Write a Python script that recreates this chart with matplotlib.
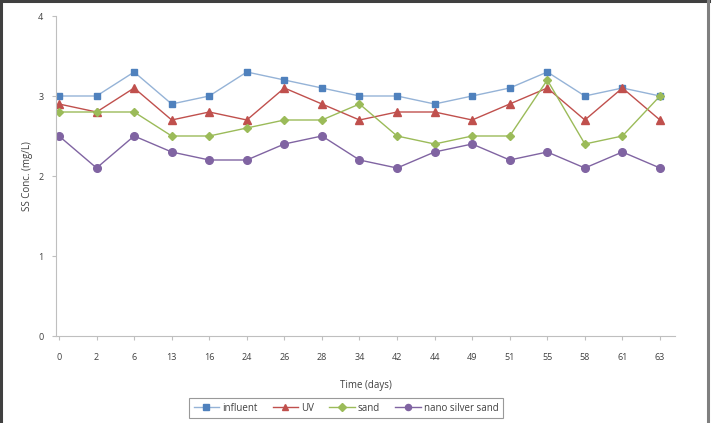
import numpy as np
import matplotlib.pyplot as plt
from matplotlib.lines import Line2D

days = ['0', '2', '6', '13', '16', '24', '26', '28', '34', '42', '44', '49', '51', '55', '58', '61', '63']
influent = [3.0, 3.0, 3.3, 2.9, 3.0, 3.3, 3.2, 3.1, 3.0, 3.0, 2.9, 3.0, 3.1, 3.3, 3.0, 3.1, 3.0]
uv = [2.9, 2.8, 3.1, 2.7, 2.8, 2.7, 3.1, 2.9, 2.7, 2.8, 2.8, 2.7, 2.9, 3.1, 2.7, 3.1, 2.7]
sand = [2.8, 2.8, 2.8, 2.5, 2.5, 2.6, 2.7, 2.7, 2.9, 2.5, 2.4, 2.5, 2.5, 3.2, 2.4, 2.5, 3.0]
nano = [2.5, 2.1, 2.5, 2.3, 2.2, 2.2, 2.4, 2.5, 2.2, 2.1, 2.3, 2.4, 2.2, 2.3, 2.1, 2.3, 2.1]

plt.rcParams['font.family'] = ['Open Sans', 'DejaVu Sans']
W, H = 718, 423
fig = plt.figure(figsize=(W/100, H/100), dpi=100)
ax = fig.add_axes([56/W, (H-336)/H, (675-56)/W, 320/H])

x = np.arange(len(days))
ax.plot(x, influent, '-', color='#95b3d7', lw=1, marker='s', ms=5, mfc='#4f81bd', mec='#4f81bd', label='influent')
ax.plot(x, uv, '-', color='#c0504d', lw=1, marker='^', ms=5.5, mfc='#c0504d', mec='#c0504d', label='UV')
ax.plot(x, sand, '-', color='#9bbb59', lw=1, marker='D', ms=4.5, mfc='#9bbb59', mec='#9bbb59', label='sand')
ax.plot(x, nano, '-', color='#8064a2', lw=1, marker='o', ms=5.5, mfc='#8064a2', mec='#8064a2', label='nano silver sand')

ax.set_xlim(-0.08, 16.4)
ax.set_ylim(0, 4)
ax.set_xticks(x)
ax.set_xticklabels(days)
ax.set_yticks([0, 1, 2, 3, 4])
for s in ['top', 'right']:
    ax.spines[s].set_visible(False)
for s in ['left', 'bottom']:
    ax.spines[s].set_color('#bfbfbf')
ax.tick_params(colors='#bfbfbf', labelcolor='#404040', labelsize=6.5, length=3, width=0.8)
ax.tick_params(axis='x', pad=9)
ax.tick_params(axis='y', pad=6)
ax.set_xlabel('Time (days)', fontsize=7, color='#404040', labelpad=13)
ax.set_ylabel('SS Conc. (mg/L)', fontsize=7, color='#404040', labelpad=4)

leg = fig.legend(loc='center', bbox_to_anchor=(346/W, (H-408)/H), ncol=4, fontsize=7,
                 frameon=True, fancybox=False, edgecolor='#808080', handlelength=2.6,
                 columnspacing=1.6, handletextpad=0.3, markerscale=0.8, borderpad=0.45,
                 borderaxespad=0)
leg.get_frame().set_linewidth(0.8)
for t in leg.get_texts():
    t.set_color('#404040')

# outer border
fig.add_artist(Line2D([1/W, 1/W], [0, 1], color='#404040', lw=2.2))
fig.add_artist(Line2D([0, 709/W], [1-1/H, 1-1/H], color='#404040', lw=2.2))
fig.add_artist(Line2D([708/W, 708/W], [0, 1], color='#7f7f7f', lw=2.2))

fig.savefig('out.png', dpi=100)
